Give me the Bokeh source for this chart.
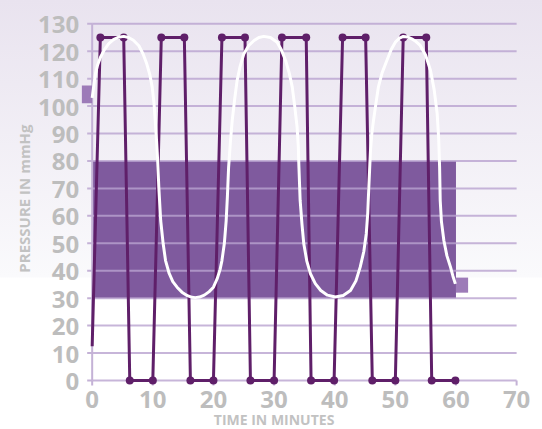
import math
from bokeh.plotting import figure
from bokeh.models import Range1d, Label
from bokeh.core.properties import value
from bokeh.embed import file_html
from bokeh.resources import INLINE

# ---- data ----
time_ticks = [0, 10, 20, 30, 40, 50, 60, 70]
pressure_ticks = [0, 10, 20, 30, 40, 50, 60, 70, 80, 90, 100, 110, 120, 130]
time_labels = [str(t) for t in time_ticks]
pressure_labels = [str(t) for t in pressure_ticks]

pump_time = [0, 1.35, 5.2, 6.2, 10.0, 11.4, 15.2, 16.2, 20.0, 21.4, 25.2, 26.1, 30.0,
             31.3, 35.3, 36.1, 39.9, 41.3, 45.1, 46.2, 50.0, 51.3, 55.1, 56.0, 59.9]
pump_pressure = [12.5, 125, 125, 0, 0, 125, 125, 0, 0, 125, 125, 0, 0,
                 125, 125, 0, 0, 125, 125, 0, 0, 125, 125, 0, 0]

curve_time = [0, 0.3, 0.54, 0.9, 1.37, 2.0, 2.7, 3.5, 4.3, 5.2, 6.0, 6.8, 7.7, 8.4, 9.0,
              9.5, 9.9, 10.2, 10.4, 10.6, 10.8, 11.0, 11.3, 11.7, 12.1, 12.7, 13.3, 14.0,
              14.8, 15.7, 16.5, 17.0, 17.7, 18.5, 19.3, 20.0, 20.6, 21.1, 21.4, 21.8, 22.1,
              22.3, 22.5, 22.8, 23.1, 23.5, 23.9, 24.4, 25.0, 25.8, 26.7, 27.5, 28.3, 29.4,
              30.5, 31.2, 31.9, 32.5, 33.0, 33.4, 33.8, 34.0, 34.1, 34.3, 34.6, 34.9, 35.4,
              36.0, 36.8, 37.7, 38.8, 40.1, 41.4, 42.6, 43.5, 44.2, 44.8, 45.2, 45.45, 45.6,
              45.75, 45.9, 46.1, 46.4, 46.8, 47.2, 47.8, 48.6, 49.3, 50.0, 50.7, 51.3, 52.0,
              52.7, 53.4, 54.1, 55.0, 55.8, 56.4, 56.9, 57.15, 57.3, 57.4, 57.6, 58.0, 58.5,
              59.1, 59.5, 59.9]
curve_pressure = [103, 108, 111.8, 115, 117.8, 120.5, 122.7, 124.2, 125.1, 125.4, 125, 124,
                  122, 119, 115.4, 111.5, 106.9, 101, 94.8, 88, 80.2, 70, 58.3, 50, 43.7, 39,
                  36, 34, 32.2, 30.9, 30.3, 30.2, 30.4, 31.1, 32.4, 34, 37, 40.5, 43.7, 50,
                  58.3, 67, 77.7, 87, 94.8, 102.5, 109.3, 114.5, 119, 122, 123.9, 125, 125.4,
                  125, 123.3, 120.5, 116.6, 112, 106.9, 100, 92.3, 85, 77.7, 65.6, 57, 49.8,
                  43.5, 38.9, 35.3, 32.8, 31.1, 30.4, 31, 32.8, 36.3, 41.3, 47, 53.4, 61, 69.2,
                  76.5, 83.8, 89.5, 94.8, 101, 106.9, 112, 116.6, 120.5, 123.3, 124.8, 125.4,
                  125.2, 124.5, 123.5, 122.1, 118.5, 113, 106, 97.2, 88, 77.7, 65.6, 58, 51,
                  45.5, 41.3, 38, 35.2]

band_start = [0]
band_end = [60]
band_low = [30]
band_high = [80]

marker_left = [-1.7, 60]
marker_right = [0, 62]
marker_bottom = [101, 32]
marker_top = [107.5, 37.5]

# ---- styles ----
GRID = "#c4b2d6"
DARK = "#5f1f69"
TICK_GRAY = "#bdbdbd"
TITLE_GRAY = "#c2c2c2"
PX_X = 6.063   # pixels per minute
PX_Y = 2.744   # pixels per mmHg
TICK_LEN = 5   # pixels

# the plotting frame covers the whole canvas; axes are drawn from the tick arrays
p = figure(width=542, height=429,
           x_range=Range1d(-15.12, 74.27), y_range=Range1d(-17.86, 138.48),
           output_backend="svg", toolbar_location=None, title=None,
           min_border_left=0, min_border_right=0, min_border_top=0, min_border_bottom=0,
           border_fill_color=None, background_fill_color=None, outline_line_color=None)
p.styles = {"background": "linear-gradient(to bottom, #e9e3ef 0px, #fafafc 277px, #ffffff 278px, #ffffff 100%)"}
p.grid.visible = False
p.axis.visible = False

# target band
p.quad(left=band_start, right=band_end, bottom=band_low, top=band_high,
       fill_color="#7f5a9e", line_color=None)

# horizontal grid lines drawn over the band (the one at 0 is the x axis line)
n = len(pressure_ticks)
m = len(time_ticks)
p.segment(x0=[time_ticks[0]] * n, x1=[time_ticks[-1]] * n, y0=pressure_ticks, y1=pressure_ticks,
          line_color="#b9a3cf", line_alpha=0.8, line_width=2)
# y axis line and tick marks
p.segment(x0=[time_ticks[0]], x1=[time_ticks[0]], y0=[pressure_ticks[0]], y1=[pressure_ticks[-1]],
          line_color=GRID, line_width=2)
p.segment(x0=[time_ticks[0] - TICK_LEN / PX_X] * n, x1=[time_ticks[0]] * n,
          y0=pressure_ticks, y1=pressure_ticks, line_color=GRID, line_width=2)
p.segment(x0=time_ticks, x1=time_ticks, y0=[pressure_ticks[0]] * m,
          y1=[pressure_ticks[0] - TICK_LEN / PX_Y] * m, line_color=GRID, line_width=2)

# tick labels
p.text(x=[time_ticks[0]] * n, y=pressure_ticks, text=pressure_labels, x_offset=-13, y_offset=1,
       text_align="right", text_baseline="middle", text_font=value("Open Sans"),
       text_font_style="bold", text_font_size="24px", text_color=TICK_GRAY)
p.text(x=time_ticks, y=[pressure_ticks[0]] * m, text=time_labels, y_offset=11,
       text_align="center", text_baseline="top", text_font=value("Open Sans"),
       text_font_style="bold", text_font_size="24px", text_color=TICK_GRAY)

# small markers
p.quad(left=marker_left, right=marker_right, bottom=marker_bottom, top=marker_top,
       fill_color="#9d7bb8", line_color=None)

# pump square wave
p.line(pump_time, pump_pressure, line_color=DARK, line_width=3, line_join="round")
p.scatter(pump_time[1:], pump_pressure[1:], size=8, fill_color=DARK, line_color=None)

# pressure curve
p.line(curve_time, curve_pressure, line_color="white", line_width=3, line_join="round")

# axis titles
p.add_layout(Label(x=30, y=-14.3, text="TIME IN MINUTES", text_align="center",
                   text_baseline="middle", text_font="Open Sans", text_font_style="bold",
                   text_font_size="14px", text_color=TITLE_GRAY))
p.add_layout(Label(x=-11.2, y=66.3, text="PRESSURE IN mmHg", angle=math.pi / 2,
                   text_align="center", text_baseline="middle", text_font="Open Sans",
                   text_font_style="bold", text_font_size="15px", text_color=TITLE_GRAY))

open("out.html", "w").write(file_html(p, INLINE))
